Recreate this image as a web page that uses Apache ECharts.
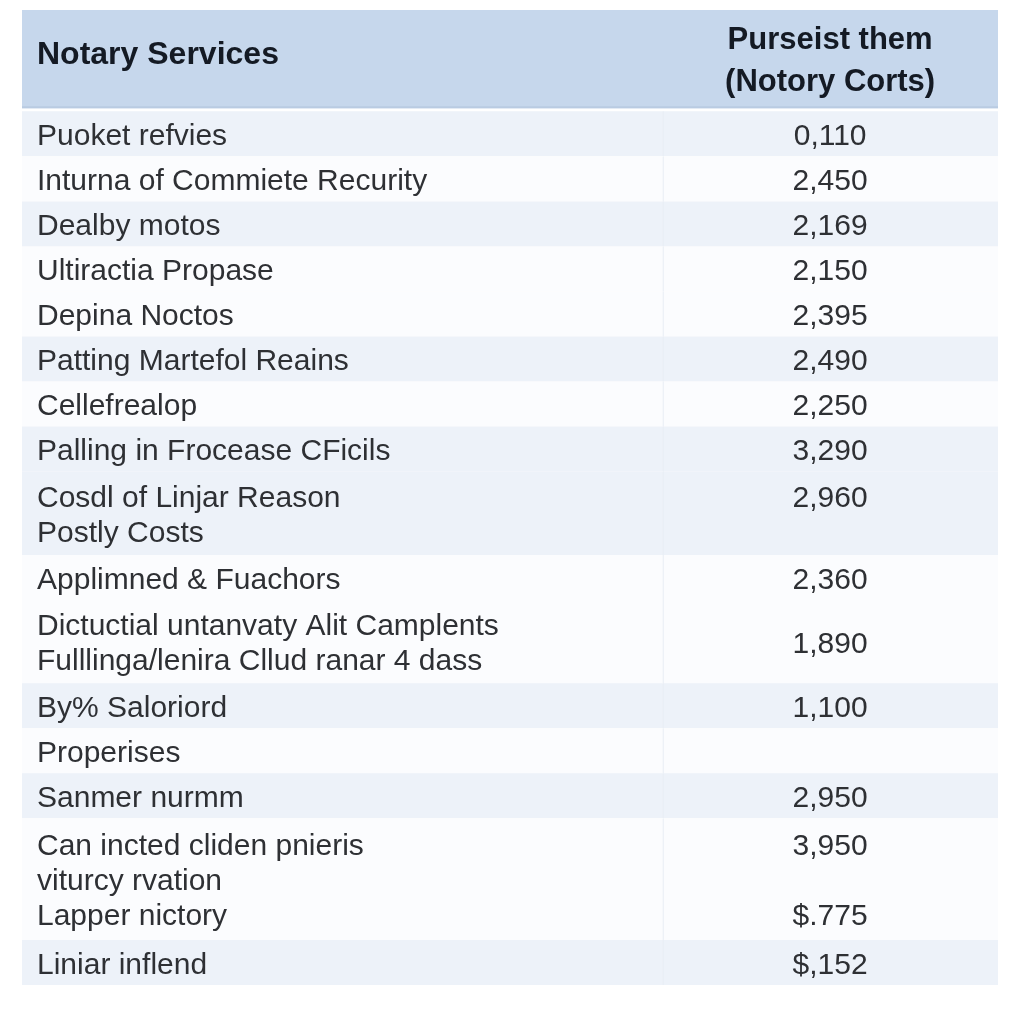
<!DOCTYPE html>
<html>
<head>
<meta charset="utf-8">
<style>
  html, body { margin: 0; padding: 0; background: #ffffff; }
  #chart { width: 1024px; height: 1024px; }
</style>
<script src="https://cdn.jsdelivr.net/npm/echarts@6/dist/echarts.min.js"></script>
</head>
<body>
<div id="chart"></div>
<script>
// table data
const headerLeft = "Notary Services";
const headerRight = "Purseist them\n(Notory Corts)";
const services = [
  "Puoket refvies",
  "Inturna of Commiete Recurity",
  "Dealby motos",
  "Ultiractia Propase",
  "Depina Noctos",
  "Patting Martefol Reains",
  "Cellefrealop",
  "Palling in Frocease CFicils",
  "Cosdl of Linjar Reason\nPostly Costs",
  "Applimned & Fuachors",
  "Dictuctial untanvaty Alit Camplents\nFulllinga/lenira Cllud ranar 4 dass",
  "By% Saloriord",
  "Properises",
  "Sanmer nurmm",
  "Can incted cliden pnieris\nviturcy rvation\nLapper nictory",
  "Liniar inflend"
];
const costs = [
  "0,110", "2,450", "2,169", "2,150", "2,395", "2,490", "2,250", "3,290",
  "2,960", "2,360", "1,890", "1,100", "", "2,950", "3,950\n\n$.775", "$,152"
];

// layout / look
const shaded = [1, 0, 1, 0, 0, 1, 0, 1, 1, 0, 0, 1, 0, 1, 0, 1];
const valueOnFirstLine = [8, 14];
const headerH = 2.18, gap = 0.07, extraLine = 0.85, lineGap = 35;
const divX = 0.657, valueX = 0.828;
const bodyText = { fontFamily: "Liberation Sans", fontSize: 30, fill: "#2e3034" };
const headText = { fontFamily: "Liberation Sans", fontWeight: "bold", fill: "#141a24" };

// row starts / heights in row units
const rowH = services.map(s => 1 + extraLine * (s.split("\n").length - 1));
const rowTop = [];
let acc = headerH + gap;
rowH.forEach(h => { rowTop.push(acc); acc += h; });
const total = acc;

const chart = echarts.init(document.getElementById("chart"));

chart.setOption({
  animation: false,
  grid: { left: 22, right: 26, top: 10, bottom: 39 },
  xAxis: { type: "value", min: 0, max: 1, show: false },
  yAxis: { type: "value", min: 0, max: total, inverse: true, show: false },
  series: [
    {
      // header band
      type: "custom",
      data: [[0]],
      renderItem: (params, api) => {
        const a = api.coord([0, 0]);
        const b = api.coord([1, headerH]);
        const rc = api.coord([valueX, headerH / 2]);
        return {
          type: "group",
          children: [
            { type: "rect", shape: { x: a[0], y: a[1], width: b[0] - a[0], height: b[1] - a[1] },
              style: { fill: "#c6d7ec" } },
            { type: "line", shape: { x1: a[0], y1: b[1] - 1, x2: b[0], y2: b[1] - 1 },
              style: { stroke: "#b9cbe2", lineWidth: 2 } },
            { type: "text", style: Object.assign({ text: headerLeft, x: a[0] + 15, y: (a[1] + b[1]) / 2 - 4,
              fontSize: 32, align: "left", verticalAlign: "middle" }, headText) },
            { type: "text", style: Object.assign({ text: headerRight, x: rc[0], y: rc[1] + 2,
              fontSize: 31, lineHeight: 42, align: "center", verticalAlign: "middle" }, headText) }
          ]
        };
      }
    },
    {
      // body rows
      type: "custom",
      data: services.map((s, i) => [i]),
      renderItem: (params, api) => {
        const i = api.value(0);
        const a = api.coord([0, rowTop[i]]);
        const b = api.coord([1, rowTop[i] + rowH[i]]);
        const d = api.coord([divX, 0]);
        const v = api.coord([valueX, 0]);
        const mid = (a[1] + b[1]) / 2 + 3;
        const lines = services[i].split("\n").length;
        const vLines = costs[i].split("\n").length;
        const vy = valueOnFirstLine.includes(i) ? mid - lineGap / 2 * (lines - vLines) : mid;
        return {
          type: "group",
          children: [
            { type: "rect", shape: { x: a[0], y: a[1], width: b[0] - a[0], height: b[1] - a[1] },
              style: { fill: shaded[i] ? "#edf2f9" : "#fbfcfe" } },
            { type: "line", shape: { x1: d[0], y1: a[1], x2: d[0], y2: b[1] },
              style: { stroke: "#e8edf4", lineWidth: 1 } },
            { type: "text", style: Object.assign({ text: services[i], x: a[0] + 15, y: mid,
              lineHeight: lineGap, align: "left", verticalAlign: "middle" }, bodyText) },
            { type: "text", style: Object.assign({ text: costs[i], x: v[0], y: vy,
              lineHeight: lineGap, align: "center", verticalAlign: "middle" }, bodyText) }
          ]
        };
      }
    }
  ]
});

window.addEventListener("resize", () => chart.resize());
</script>
</body>
</html>
